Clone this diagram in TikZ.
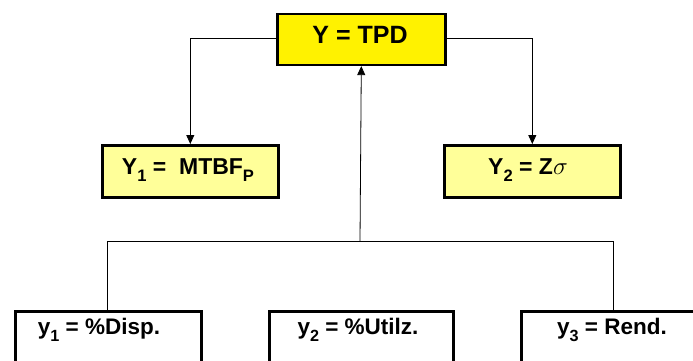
\documentclass[tikz,border=0pt]{standalone}
\usepackage{fontspec}
\setmainfont{Liberation Sans}
\usetikzlibrary{arrows.meta}
\newcommand{\sbs}[1]{\raisebox{-0.3em}{\scalebox{0.72}{#1}}}
\tikzset{
  x=1pt, y=-1pt,
  box/.style={draw=black, line width=2.6pt, inner sep=0pt, anchor=north west},
  topbox/.style={box, fill=yellow},
  midbox/.style={box, fill={rgb,255:red,255;green,255;blue,153}},
  lowbox/.style={box, fill=white},
  lbl/.style={inner sep=0pt},
  midfont/.style={font=\bfseries\fontsize{23}{27}\selectfont},
  lowfont/.style={font=\bfseries\fontsize{22.5}{27}\selectfont},
  link/.style={line width=0.8pt},
  arrowlink/.style={link, -{Triangle[width=8pt,length=9pt]}}
}
\begin{document}
\begin{tikzpicture}
  \useasboundingbox (0,0) rectangle (693,360);
  \fill[white] (0,0) rectangle (693,360);
  \clip (0,0) rectangle (693,360);

  % top level
  \node[topbox, minimum width=168pt, minimum height=51pt] (top) at (276,12.5) {};
  \node[lbl, font=\bfseries\fontsize{25}{29}\selectfont] (toplbl) at (360,35) {Y = TPD};

  % second level
  \node[midbox, minimum width=176pt, minimum height=52pt] (ya) at (101,144) {};
  \node[lbl, midfont] (yalbl) at (188,170) {Y\sbs{1} =\ \ MTBF\sbs{P}};
  \node[midbox, minimum width=176pt, minimum height=52pt] (yb) at (443,144) {};
  \node[lbl, midfont] (yblbl) at (528,170) {Y\sbs{2} = Z{\fontsize{25}{27}\selectfont$\sigma$}};

  % bottom level (boxes run past the lower edge)
  \node[lowbox, minimum width=186pt, minimum height=80pt] (ba) at (14,310) {};
  \node[lbl, lowfont] (balbl) at (99,330) {y\sbs{1} = \%Disp.};
  \node[lowbox, minimum width=184pt, minimum height=80pt] (bb) at (268,310) {};
  \node[lbl, lowfont] (bblbl) at (358,330) {y\sbs{2} = \%Utilz.};
  \node[lowbox, minimum width=240pt, minimum height=80pt] (bc) at (520,310) {};
  \node[lbl, lowfont] (bclbl) at (612,330) {y\sbs{3} = Rend.};

  % connectors
  \coordinate (jl) at (107,241.5);
  \coordinate (jm) at (360,241.5);
  \coordinate (jr) at (613,241.5);
  \draw[arrowlink] (top.west |- 0,38) -| (ya.north);
  \draw[arrowlink] (top.east |- 0,38) -| (yb.north);
  \draw[arrowlink] (jm) -- (top.south);
  \draw[link] (ba.north -| jl) -- (jl) -- (jr) -- (jr |- bc.north);
\end{tikzpicture}
\end{document}
